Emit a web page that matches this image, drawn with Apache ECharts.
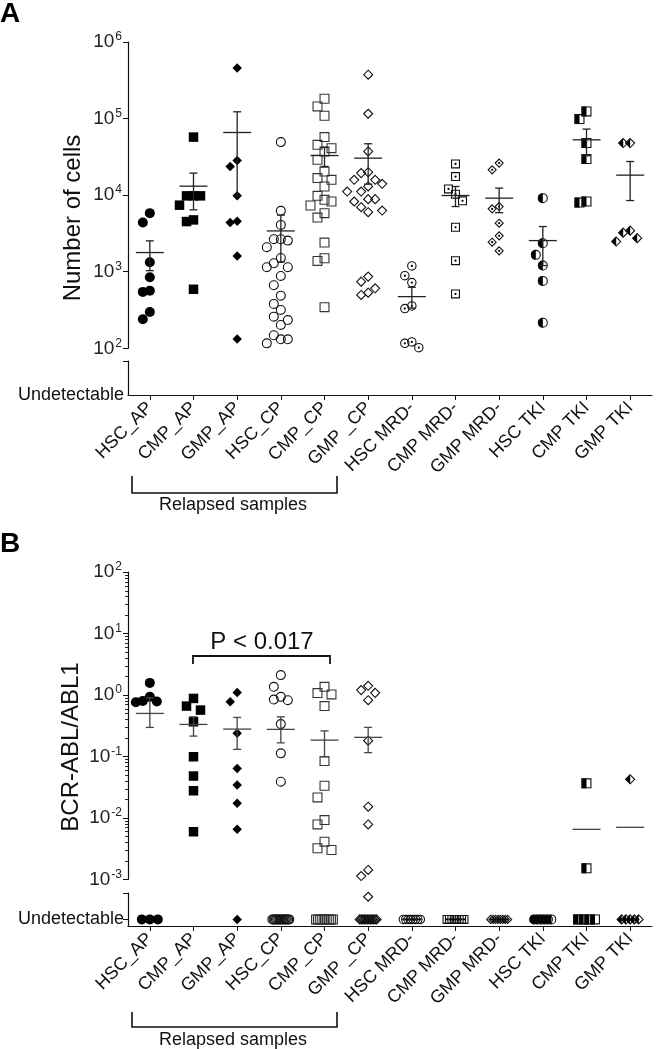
<!DOCTYPE html>
<html><head><meta charset="utf-8">
<script src="https://cdn.jsdelivr.net/npm/echarts@6/dist/echarts.min.js"></script>
<style>html,body{margin:0;padding:0;background:#fff}#c{width:657px;height:1049px}</style>
</head><body><div id="c"></div>
<script>
// ---------------- DATA ----------------
const categories = ['HSC_AP','CMP_AP','GMP_AP','HSC_CP','CMP_CP','GMP _CP','HSC MRD-','CMP MRD-','GMP MRD-','HSC TKI','CMP TKI','GMP TKI'];
const markerTypes = ['circleFilled','squareFilled','diamondFilled','circleOpen','squareOpen','diamondOpen','circleDot','squareDot','diamondDot','circleHalf','squareHalf','diamondHalf'];
const ticksA = [1e2, 1e3, 1e4, 1e5, 1e6];
const ticksB = [1e-3, 1e-2, 1e-1, 1e0, 1e1, 1e2];

// Panel A: number of cells
const cellsHSC_AP = [5820, 4385, 1331, 847, 566, 545, 298, 239];
const cellsCMP_AP = [57300, 9790, 9790, 9790, 7400, 4750, 4520, 590];
const cellsGMP_AP = [457000, 28300, 23600, 9790, 4570, 4385, 1610, 132];
const cellsHSC_CP = [49300, 6240, 4090, 2660, 2550, 2660, 2090, 1514, 1290, 1145, 1145, 881, 666, 487, 380, 317, 259, 234, 202, 148, 131, 131, 116];
const cellsCMP_CP = [181600, 143900, 108800, 57300, 45400, 41100, 37100, 28900, 20300, 16700, 15850, 12970, 9800, 8690, 8260, 7330, 5820, 5100, 2400, 1500, 1384, 344];
const cellsGMP_CP = [374000, 115600, 37200, 19400, 19950, 15850, 14060, 15850, 12980, 11150, 11150, 8870, 8870, 8260, 6970, 6290, 5990, 863, 742, 608, 533, 497];
const cellsHSC_MRD = [1190, 889, 721, 357, 330, 121, 116, 102];
const cellsCMP_MRD = [25600, 17500, 12070, 10300, 8420, 3810, 1396, 513];
const cellsGMP_MRD = [26200, 21400, 7100, 6620, 4300, 2940, 2430, 1872];
const cellsHSC_TKI = [9140, 2360, 1660, 1203, 759, 216];
const cellsCMP_TKI = [124000, 98400, 47900, 29600, 8260, 8000];
const cellsGMP_TKI = [47900, 47900, 3440, 3240, 2740, 2480];
const meanA  = [1780, 13100, 65800, 3410, 32900, 30400, 473, 9890, 9140, 2550, 52800, 18250];
const semHiA = [2530, 19400, 122700, 5480, 42000, 46900, 626, 12970, 12360, 3890, 72900, 27500];
const semLoA = [1033, 6430, 9790, 1340, 23700, 13900, 335, 7100, 5900, 1203, 32700, 8500];

// Panel B: BCR-ABL/ABL1 ratio
const bcrHSC_AP = [1.57, 0.93, 0.80, 0.78, 0.76];
const bcrCMP_AP = [0.877, 0.658, 0.566, 0.366, 0.0986, 0.0479, 0.0276, 0.00594];
const bcrGMP_AP = [1.10, 0.772, 0.237, 0.0638, 0.0341, 0.0172, 0.0065];
const bcrHSC_CP = [2.1, 1.355, 0.93, 0.84, 0.82, 0.335, 0.112, 0.0387];
const bcrCMP_CP = [1.355, 1.07, 1.02, 0.658, 0.084, 0.0333, 0.0215, 0.0092, 0.0078, 0.0041, 0.0032, 0.0030];
const bcrGMP_CP = [1.405, 1.197, 1.08, 0.82, 0.18, 0.0152, 0.0078, 0.00142, 0.00113, 0.00052];
const bcrHSC_MRD = [];
const bcrCMP_MRD = [];
const bcrGMP_MRD = [];
const bcrHSC_TKI = [];
const bcrCMP_TKI = [0.0364, 0.00151];
const bcrGMP_TKI = [0.0423];
const undetectableB = [3, 0, 1, 15, 10, 12, 8, 8, 8, 6, 4, 5];
const meanB  = [0.5, 0.331, 0.278, 0.275, 0.184, 0.204, null, null, null, null, 0.0065, 0.00701];
const semHiB = [0.897, 0.44, 0.43, 0.44, 0.26, 0.296, null, null, null, null, null, null];
const semLoB = [0.296, 0.214, 0.13, 0.166, 0.0986, 0.115, null, null, null, null, null, null];

// ---------------- BUILD ----------------
const cellsA = [cellsHSC_AP, cellsCMP_AP, cellsGMP_AP, cellsHSC_CP, cellsCMP_CP, cellsGMP_CP, cellsHSC_MRD, cellsCMP_MRD, cellsGMP_MRD, cellsHSC_TKI, cellsCMP_TKI, cellsGMP_TKI];
const bcrB = [bcrHSC_AP, bcrCMP_AP, bcrGMP_AP, bcrHSC_CP, bcrCMP_CP, bcrGMP_CP, bcrHSC_MRD, bcrCMP_MRD, bcrGMP_MRD, bcrHSC_TKI, bcrCMP_TKI, bcrGMP_TKI];
const UNDET = 0.2;
const FONT = "'Liberation Sans', Arial, Helvetica, sans-serif";
const K = '#000';
const SIZE = {circleFilled:10, squareFilled:9.5, diamondFilled:9.5, circleOpen:10, squareOpen:10, diamondOpen:10,
  circleDot:9.5, squareDot:9, diamondDot:9, circleHalf:10, squareHalf:10, diamondHalf:10};

function marker(type, x, y) {
  const s = SIZE[type], r = s / 2;
  const mode = type.match(/Filled|Open|Dot|Half/)[0];
  const shape = type.replace(mode, '');
  const out = [];
  const st = {stroke: '#111', lineWidth: 1.1, fill: 'none'};
  if (shape === 'circle') {
    if (mode === 'Filled') out.push({type:'circle', shape:{cx:x, cy:y, r:r}, style:{fill:K}});
    else {
      if (mode === 'Half') out.push({type:'sector', shape:{cx:x, cy:y, r0:0, r:r, startAngle:Math.PI/2, endAngle:Math.PI*1.5, clockwise:true}, style:{fill:K}});
      out.push({type:'circle', shape:{cx:x, cy:y, r:r-0.55}, style:st});
    }
  } else if (shape === 'square') {
    if (mode === 'Filled') out.push({type:'rect', shape:{x:x-r, y:y-r, width:s, height:s}, style:{fill:K}});
    else {
      if (mode === 'Half') out.push({type:'rect', shape:{x:x-r, y:y-r, width:r, height:s}, style:{fill:K}});
      out.push({type:'rect', shape:{x:x-r+0.55, y:y-r+0.55, width:s-1.1, height:s-1.1}, style:Object.assign({}, st, {stroke: mode==='Open' ? '#333' : '#111'})});
    }
  } else {
    const pts = [[x, y-r], [x+r, y], [x, y+r], [x-r, y]];
    if (mode === 'Filled') out.push({type:'polygon', shape:{points:pts}, style:{fill:K}});
    else {
      if (mode === 'Half') out.push({type:'polygon', shape:{points:[[x, y-r], [x, y+r], [x-r, y]]}, style:{fill:K}});
      const q = r - 0.5;
      out.push({type:'polygon', shape:{points:[[x, y-q], [x+q, y], [x, y+q], [x-q, y]]}, style:st});
    }
  }
  if (mode === 'Dot') out.push({type:'circle', shape:{cx:x, cy:y, r:1.1}, style:{fill:K}});
  return out;
}

// elliptical-collision beeswarm (horizontal spacing rx, vertical spacing ry)
function swarm(pys, rx, ry, step) {
  const order = pys.map((_, i) => i).sort((a, b) => pys[a] - pys[b]);
  const off = new Array(pys.length).fill(0);
  const placed = [];
  for (const i of order) {
    for (let k = 0; k < 60; k++) {
      const m = Math.ceil(k / 2);
      const cand = k === 0 ? 0 : (k % 2 === 1 ? -m * step : m * step);
      let ok = true;
      for (const j of placed) {
        const dx = (cand - off[j]) / rx, dy = (pys[i] - pys[j]) / ry;
        if (dx * dx + dy * dy < 0.999) { ok = false; break; }
      }
      if (ok) { off[i] = cand; break; }
    }
    placed.push(i);
  }
  return off;
}

function pointSeries(axisIdx, c, values) {
  const type = markerTypes[c];
  return {
    type: 'custom', xAxisIndex: axisIdx, yAxisIndex: axisIdx, coordinateSystem: 'cartesian2d', clip: false, silent: true,
    data: values.map(v => [c, v]), encode: {x: 0, y: 1}, z: 3,
    renderItem(params, api) {
      const pys = values.map(v => api.coord([c, v])[1]);
      const offs = swarm(pys, 7, 12.5, 7);
      const i = params.dataIndex;
      const p = api.coord([api.value(0), api.value(1)]);
      return {type: 'group', children: marker(type, p[0] + offs[i], p[1])};
    }
  };
}

function undetSeries(axisIdx, counts) {
  const data = [];
  counts.forEach((n, c) => { for (let k = 0; k < n; k++) data.push([c, UNDET, k, n]); });
  return {
    type: 'custom', xAxisIndex: axisIdx, yAxisIndex: axisIdx, coordinateSystem: 'cartesian2d', clip: false, silent: true,
    data: data, encode: {x: 0, y: 1}, z: 3,
    renderItem(params, api) {
      const c = api.value(0), k = api.value(2), n = api.value(3);
      const p = api.coord([c, api.value(1)]);
      const sp = n > 1 ? Math.min(8, 17 / (n - 1)) : 0;
      return {type: 'group', children: marker(markerTypes[c], p[0] + (k - (n - 1) / 2) * sp, p[1])};
    }
  };
}

function meanSeries(axisIdx, means, his, los, color) {
  const data = [];
  means.forEach((m, c) => { if (m != null) data.push([c, m, his[c] == null ? -1 : his[c], los[c] == null ? -1 : los[c]]); });
  return {
    type: 'custom', xAxisIndex: axisIdx, yAxisIndex: axisIdx, coordinateSystem: 'cartesian2d', clip: false, silent: true,
    data: data, encode: {x: 0, y: 1}, z: 5,
    renderItem(params, api) {
      const c = api.value(0);
      const p = api.coord([c, api.value(1)]);
      const ls = {stroke: color, lineWidth: 1.3};
      const ch = [{type: 'line', shape: {x1: p[0] - 14, y1: p[1], x2: p[0] + 14, y2: p[1]}, style: ls}];
      if (api.value(2) > 0) {
        const ph = api.coord([c, api.value(2)]), pl = api.coord([c, api.value(3)]);
        ch.push({type: 'line', shape: {x1: p[0], y1: ph[1], x2: p[0], y2: pl[1]}, style: ls});
        ch.push({type: 'line', shape: {x1: p[0] - 4, y1: ph[1], x2: p[0] + 4, y2: ph[1]}, style: ls});
        ch.push({type: 'line', shape: {x1: p[0] - 4, y1: pl[1], x2: p[0] + 4, y2: pl[1]}, style: ls});
      }
      return {type: 'group', children: ch};
    }
  };
}

function minorTickSeries(axisIdx, ticks) {
  const vals = [];
  for (let i = 0; i < ticks.length - 1; i++) for (let m = 2; m <= 9; m++) vals.push([0, ticks[i] * m]);
  return {
    type: 'custom', xAxisIndex: axisIdx, yAxisIndex: axisIdx, coordinateSystem: 'cartesian2d', clip: false, silent: true,
    data: vals, encode: {x: 0, y: 1},
    renderItem(params, api) {
      const y = Math.round(api.coord([0, api.value(1)])[1]) + 0.5;
      const x0 = params.coordSys.x;
      return {type: 'line', shape: {x1: x0 - 3, y1: y, x2: x0, y2: y}, style: {stroke: '#222', lineWidth: 1}};
    }
  };
}

const axisLineStyle = {color: '#111', width: 1.2};
const supRich = {
  b: {fontSize: 19, fontFamily: FONT, color: '#222', lineHeight: 22},
  s: {fontSize: 12, fontFamily: FONT, color: '#222', verticalAlign: 'top', lineHeight: 22, padding: [0, 0, 0, 1]}
};
function logYAxis(grid, min, max) {
  return {
    type: 'log', logBase: 10, gridIndex: grid, min: min, max: max,
    axisLine: {show: true, lineStyle: axisLineStyle},
    axisTick: {show: true, length: 5, lineStyle: {color: '#111'}},
    splitLine: {show: false}, minorTick: {show: false},
    axisLabel: {margin: 6, formatter: v => '{b|10}{s|' + Math.round(Math.log10(v)) + '}', rich: supRich}
  };
}
function undetYAxis(grid, tickVals, labelVal) {
  return {
    type: 'value', gridIndex: grid, min: 0, max: 1,
    axisLine: {show: true, lineStyle: axisLineStyle},
    axisTick: {show: true, length: 5, customValues: tickVals, lineStyle: {color: '#111'}},
    splitLine: {show: false},
    axisLabel: {customValues: [labelVal], margin: 4, formatter: () => 'Undetectable', fontSize: 18, fontFamily: FONT, color: '#111'}
  };
}
function hiddenX(grid) { return {type: 'category', gridIndex: grid, data: categories, show: false}; }
function shownX(grid) {
  return {
    type: 'category', gridIndex: grid, data: categories,
    axisLine: {show: true, lineStyle: axisLineStyle},
    axisTick: {show: true, alignWithLabel: true, length: 5, lineStyle: {color: '#111'}},
    axisLabel: {interval: 0, rotate: 45, margin: 10, fontSize: 18, fontFamily: FONT, color: '#111'}
  };
}

const series = [];
cellsA.forEach((vals, c) => series.push(pointSeries(0, c, vals)));
series.push(meanSeries(0, meanA, semHiA, semLoA, '#222'));
series.push(minorTickSeries(2, ticksB));
bcrB.forEach((vals, c) => { if (vals.length) series.push(pointSeries(2, c, vals)); });
series.push(undetSeries(3, undetectableB));
series.push(meanSeries(2, meanB, semHiB, semLoB, '#444'));

const titleStyle = {fontSize: 24, fontFamily: FONT, fill: '#111', align: 'center', verticalAlign: 'middle'};
const option = {
  backgroundColor: '#fff',
  animation: false,
  grid: [
    {left: 128, right: 5, top: 42, height: 306.3},
    {left: 128, right: 5, top: 361, height: 34},
    {left: 128, right: 5, top: 572, height: 307.3},
    {left: 128, right: 5, top: 893, height: 33}
  ],
  xAxis: [hiddenX(0), shownX(1), hiddenX(2), shownX(3)],
  yAxis: [logYAxis(0, ticksA[0], ticksA[ticksA.length - 1]), undetYAxis(1, [1], 0),
          logYAxis(2, ticksB[0], ticksB[ticksB.length - 1]), undetYAxis(3, [UNDET, 1], UNDET)],
  series: series,
  graphic: [
    {type: 'text', left: 0, top: 0, style: {text: 'A', fontSize: 28, fontWeight: 'bold', fontFamily: FONT, fill: '#000'}},
    {type: 'text', left: 0, top: 530, style: {text: 'B', fontSize: 28, fontWeight: 'bold', fontFamily: FONT, fill: '#000'}},
    {type: 'text', x: 73, y: 218, rotation: Math.PI / 2, style: Object.assign({text: 'Number of cells'}, titleStyle)},
    {type: 'text', x: 71, y: 747, rotation: Math.PI / 2, style: Object.assign({text: 'BCR-ABL/ABL1'}, titleStyle)},
    {type: 'polyline', shape: {points: [[132, 476], [132, 493], [337, 493], [337, 476]]}, style: {stroke: '#111', lineWidth: 1.6, fill: 'none'}},
    {type: 'text', x: 233, y: 505, style: {text: 'Relapsed samples', fontSize: 18, fontFamily: FONT, fill: '#111', align: 'center', verticalAlign: 'middle'}},
    {type: 'polyline', shape: {points: [[132, 1012], [132, 1027], [337, 1027], [337, 1012]]}, style: {stroke: '#111', lineWidth: 1.6, fill: 'none'}},
    {type: 'text', x: 233, y: 1040, style: {text: 'Relapsed samples', fontSize: 18, fontFamily: FONT, fill: '#111', align: 'center', verticalAlign: 'middle'}},
    {type: 'polyline', shape: {points: [[193, 664], [193, 656], [330, 656], [330, 664]]}, style: {stroke: '#111', lineWidth: 1.8, fill: 'none'}},
    {type: 'text', x: 262, y: 642, style: {text: 'P < 0.017', fontSize: 24, fontFamily: FONT, fill: '#111', align: 'center', verticalAlign: 'middle'}}
  ]
};
const chart = echarts.init(document.getElementById('c'), null, {renderer: 'canvas'});
chart.setOption(option);
</script></body></html>
